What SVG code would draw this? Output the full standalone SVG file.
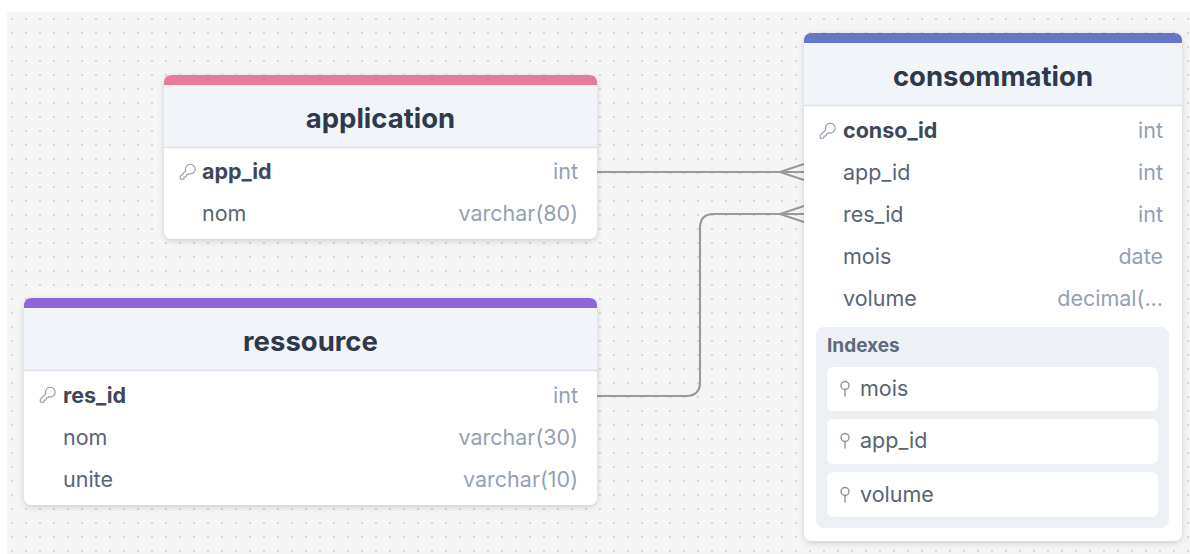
<svg xmlns="http://www.w3.org/2000/svg" width="1190" height="554" viewBox="0 0 1190 554">
<style>
.title{font-family:Inter,"Noto Sans","Liberation Sans",sans-serif;font-weight:700;font-size:27.5px;fill:#2e3a4c;text-anchor:middle}
.pk{font-family:Inter,"Noto Sans","Liberation Sans",sans-serif;font-weight:700;font-size:21.5px;fill:#3e4858}
.fn{font-family:Inter,"Noto Sans","Liberation Sans",sans-serif;font-size:21.5px;fill:#596474}
.ty{font-family:Inter,"Noto Sans","Liberation Sans",sans-serif;font-size:21.5px;fill:#95a1b4;text-anchor:end}
.ixh{font-family:Inter,"Noto Sans","Liberation Sans",sans-serif;font-weight:700;font-size:19px;fill:#5f6a79}
.ix{font-family:Inter,"Noto Sans","Liberation Sans",sans-serif;font-size:21.5px;fill:#596474}
.hdr{fill:#f1f4f9}
.sep{stroke:#dde3ec;stroke-width:1.5}
.body{fill:#ffffff}
.conn{fill:none;stroke:#9a9a9a;stroke-width:2.2}
.icon{fill:none;stroke:#8a94a3;stroke-width:1.4;stroke-linecap:round;stroke-linejoin:round}
</style>
<defs>
<pattern id="dots" x="7" y="14" width="14" height="14" patternUnits="userSpaceOnUse">
<circle cx="5" cy="5" r="0.9" fill="#c4c4c4"/>
</pattern>
<filter id="sh" x="-10%" y="-10%" width="120%" height="130%">
<feDropShadow dx="0" dy="2" stdDeviation="3" flood-color="#000" flood-opacity="0.16"/>
</filter>
<g id="key">
<path class="icon" transform="translate(-1.3,-1.3) scale(0.75)" stroke-width="1.9" d="M2.586 17.414A2 2 0 0 0 2 18.828V21a1 1 0 0 0 1 1h3a1 1 0 0 0 1-1v-1a1 1 0 0 1 1-1h1a1 1 0 0 0 1-1v-1a1 1 0 0 1 1-1h.172a2 2 0 0 0 1.414-.586l.814-.814a6.5 6.5 0 1 0-4-4z"/>
</g>
<g id="pin" class="icon" stroke-width="1.5">
<circle cx="5" cy="4.5" r="4"/>
<path d="M5,8.5 V15"/>
</g>
</defs>

<rect x="0" y="0" width="1190" height="554" fill="#ffffff"/>
<rect x="7" y="12" width="1183" height="542" fill="#f5f5f5"/>
<rect x="7" y="12" width="1183" height="542" fill="url(#dots)"/>

<g id="connectors">
<path class="conn" d="M597,172 H804 M780,172 L804,164 M780,172 L804,180"/>
<path class="conn" d="M597,396 H686 Q700,396 700,382 V228 Q700,214 714,214 H804 M780,214 L804,206 M780,214 L804,222"/>
</g>

<g id="application">
<rect x="164" y="75" width="433" height="164" rx="8" class="body" filter="url(#sh)"/>
<path d="M164,86 V83 Q164,75 172,75 H589 Q597,75 597,83 V86 Z" fill="#e77a99"/>
<rect x="164" y="85" width="433" height="62" class="hdr"/>
<line x1="164" y1="147.5" x2="597" y2="147.5" class="sep"/>
<text class="title" x="380.5" y="128">application</text>
<use href="#key" x="180" y="164"/>
<text class="pk" x="202" y="179">app_id</text>
<text class="ty" x="578" y="179">int</text>
<text class="fn" x="202" y="221">nom</text>
<text class="ty" x="578" y="221">varchar(80)</text>
</g>

<g id="ressource">
<rect x="24" y="298" width="573" height="207" rx="8" class="body" filter="url(#sh)"/>
<path d="M24,309 V306 Q24,298 32,298 H589 Q597,298 597,306 V309 Z" fill="#8e66db"/>
<rect x="24" y="308" width="573" height="62" class="hdr"/>
<line x1="24" y1="370.5" x2="597" y2="370.5" class="sep"/>
<text class="title" x="310.5" y="351">ressource</text>
<use href="#key" x="40" y="387"/>
<text class="pk" x="63" y="403">res_id</text>
<text class="ty" x="578" y="403">int</text>
<text class="fn" x="63" y="445">nom</text>
<text class="ty" x="578" y="445">varchar(30)</text>
<text class="fn" x="63" y="487">unite</text>
<text class="ty" x="578" y="487">varchar(10)</text>
</g>

<g id="consommation">
<rect x="804" y="33" width="378" height="508" rx="8" class="body" filter="url(#sh)"/>
<path d="M804,44 V41 Q804,33 812,33 H1174 Q1182,33 1182,41 V44 Z" fill="#6576c8"/>
<rect x="804" y="43" width="378" height="62" class="hdr"/>
<line x1="804" y1="105.5" x2="1182" y2="105.5" class="sep"/>
<text class="title" x="993" y="86">consommation</text>
<use href="#key" x="820" y="123"/>
<text class="pk" x="843" y="138">conso_id</text>
<text class="ty" x="1163" y="138">int</text>
<text class="fn" x="843" y="180">app_id</text>
<text class="ty" x="1163" y="180">int</text>
<text class="fn" x="843" y="222">res_id</text>
<text class="ty" x="1163" y="222">int</text>
<text class="fn" x="843" y="264">mois</text>
<text class="ty" x="1163" y="264">date</text>
<text class="fn" x="843" y="306">volume</text>
<text class="ty" x="1163" y="306">decimal(...</text>
<rect x="816" y="327" width="353" height="201" rx="8" fill="#edf0f5"/>
<text class="ixh" x="827" y="352">Indexes</text>
<rect x="827" y="367" width="331" height="44" rx="6" fill="#ffffff"/>
<use href="#pin" x="840" y="381"/>
<text class="ix" x="860" y="396">mois</text>
<rect x="827" y="419" width="331" height="45" rx="6" fill="#ffffff"/>
<use href="#pin" x="840" y="433"/>
<text class="ix" x="860" y="448">app_id</text>
<rect x="827" y="472" width="331" height="45" rx="6" fill="#ffffff"/>
<use href="#pin" x="840" y="487"/>
<text class="ix" x="860" y="502">volume</text>
</g>
</svg>
